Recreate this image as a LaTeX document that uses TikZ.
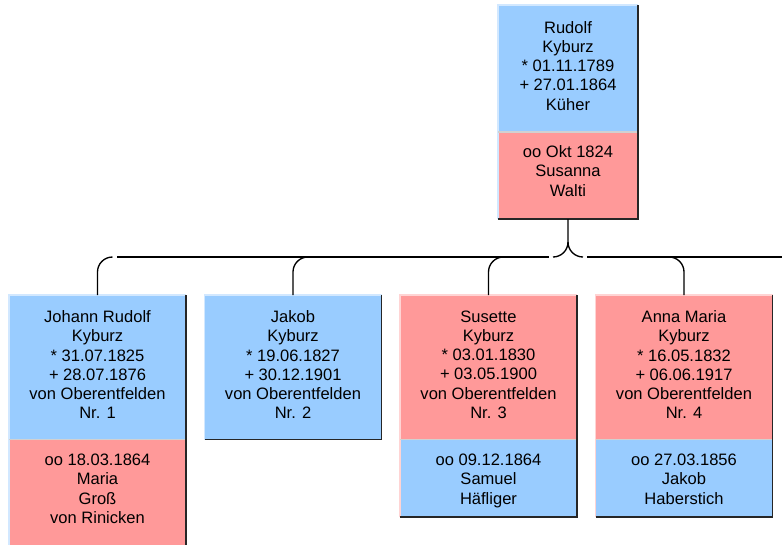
\documentclass[tikz,border=0pt]{standalone}
\usepackage{fontspec}
\setmainfont{Liberation Sans}
\definecolor{kblue}{RGB}{153,204,255}
\definecolor{kpink}{RGB}{255,153,153}
\definecolor{liteblue}{RGB}{210,232,255}
\definecolor{litepink}{RGB}{255,212,212}
\tikzset{
  sec/.style={draw=none, inner sep=0pt, outer sep=0pt, anchor=north west},
  txt/.style={inner sep=0pt, anchor=north, align=center,
    font=\fontsize{12.4pt}{14.4pt}\selectfont, text=black},
  conn/.style={line width=1pt, black},
  lite/.style={line width=1pt},
  dark/.style={line width=0.9pt, black!85},
  divl/.style={line width=0.8pt, black!18},
  childw/.style={minimum width=132.75pt},
}
\newcommand\kbframe[3]{%
  \draw[lite,#3] (#2.south west) -- (#1.north west) -- (#1.north east);
  \draw[divl] (#1.south west) -- (#1.south east);
  \draw[dark] (#1.north east) -- (#2.south east) -- (#2.south west);
}
\begin{document}
\begin{tikzpicture}[x=0.75pt, y=-0.75pt]
\useasboundingbox (0,0) rectangle (782,544);

% top person
\node[sec, fill=kblue, minimum width=105pt, minimum height=95.25pt] (tb) at (498,5) {};
\node[sec, fill=kpink, minimum width=105pt, minimum height=65.25pt] (tp) at (498,132) {};
\kbframe{tb}{tp}{liteblue}
\node[txt] (tbt) at (568,21) {Rudolf\\Kyburz\\* 01.11.1789\\+ 27.01.1864\\Küher};
\node[txt] (tpt) at (568,145.5) {oo Okt 1824\\Susanna\\Walti};

% children
\node[sec, childw, fill=kblue, minimum height=108.4pt] (c1) at (9,295) {};
\node[sec, childw, fill=kpink, minimum height=82.9pt] (c1l) at (9,439.5) {};
\kbframe{c1}{c1l}{liteblue}
\node[txt] (c1t) at (97.5,310.4) {Johann Rudolf\\Kyburz\\* 31.07.1825\\+ 28.07.1876\\von Oberentfelden\\Nr. 1};
\node[txt] (c1lt) at (97.5,453.8) {oo 18.03.1864\\Maria\\Groß\\von Rinicken};

\node[sec, childw, fill=kblue, minimum height=108.4pt] (c2) at (204.5,295) {};
\kbframe{c2}{c2}{liteblue}
\node[txt] (c2t) at (293,310.4) {Jakob\\Kyburz\\* 19.06.1827\\+ 30.12.1901\\von Oberentfelden\\Nr. 2};

\node[sec, childw, fill=kpink, minimum height=108.4pt] (c3) at (400,295) {};
\node[sec, childw, fill=kblue, minimum height=58.1pt] (c3l) at (400,439.5) {};
\kbframe{c3}{c3l}{litepink}
\node[txt] (c3t) at (488.5,310.4) {Susette\\Kyburz\\* 03.01.1830\\+ 03.05.1900\\von Oberentfelden\\Nr. 3};
\node[txt] (c3lt) at (488.5,453.8) {oo 09.12.1864\\Samuel\\Häfliger};

\node[sec, childw, fill=kpink, minimum height=108.4pt] (c4) at (595.5,295) {};
\node[sec, childw, fill=kblue, minimum height=58.1pt] (c4l) at (595.5,439.5) {};
\kbframe{c4}{c4l}{litepink}
\node[txt] (c4t) at (684,310.4) {Anna Maria\\Kyburz\\* 16.05.1832\\+ 06.06.1917\\von Oberentfelden\\Nr. 4};
\node[txt] (c4lt) at (684,453.8) {oo 27.03.1856\\Jakob\\Haberstich};

% connectors
\coordinate (hl1) at (117,257);
\coordinate (hl2) at (549,257);
\coordinate (hr1) at (587,257);
\coordinate (hr2) at (786,257);
\draw[conn] (tp.south) -- ++(0,23) coordinate (hubtop)
  .. controls +(0,8.3) and +(8.3,0) .. ++(-15,15);
\draw[conn] (hubtop) .. controls +(0,8.3) and +(-8.3,0) .. ++(15,15);
\draw[conn] (hl1) -- (hl2);
\draw[conn] (hr1) -- (hr2);
\draw[conn] (c1.north) -- ++(0,-23) .. controls +(0,-8.3) and +(-8.3,0) .. ++(15,-15);
\draw[conn] (c2.north) -- ++(0,-23) .. controls +(0,-8.3) and +(-8.3,0) .. ++(15,-15);
\draw[conn] (c3.north) -- ++(0,-23) .. controls +(0,-8.3) and +(-8.3,0) .. ++(15,-15);
\draw[conn] (c4.north) -- ++(0,-23) .. controls +(0,-8.3) and +(8.3,0) .. ++(-15,-15);
\end{tikzpicture}
\end{document}
